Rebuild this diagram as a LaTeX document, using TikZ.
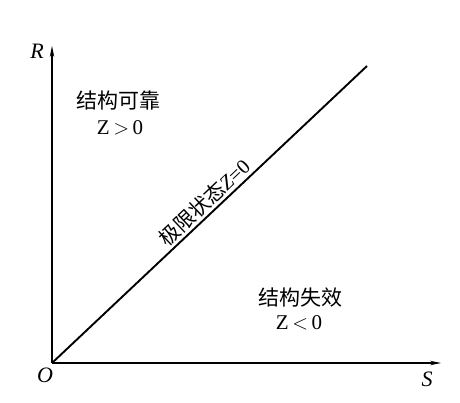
\documentclass[tikz,border=0pt]{standalone}
\usepackage{fontspec}
\setmainfont{Liberation Serif}
\newfontfamily\cjk{Noto Sans CJK SC}
\usetikzlibrary{arrows.meta}
\begin{document}
\begin{tikzpicture}[x=1pt,y=1pt,
  axis/.style={line width=1.2pt,-{Stealth[length=11pt,width=4.5pt]}},
  lbl/.style={font=\fontsize{22}{24}\selectfont\itshape,inner sep=0pt},
  region/.style={font=\fontsize{21}{23}\selectfont,inner sep=0pt,align=center}]
\useasboundingbox (0,0) rectangle (460,402);
\coordinate (O) at (52,39);
\coordinate (Rt) at (52,356);
\coordinate (St) at (441,39);
\coordinate (E) at (367,336);
\draw[axis] (O) -- (Rt);
\draw[axis] (O) -- (St);
\draw[line width=1.9pt] (O) -- (E)
  node[pos=0.51,sloped,above=2pt,font=\fontsize{20.5}{22}\selectfont,inner sep=0pt] {{\cjk 极限状态}\textit{Z}=0};
\node[lbl] (R) at (37,351) {R};
\node[lbl] (Olbl) at (45,27) {O};
\node[lbl] (S) at (427,23) {S};
\node[region] (safe) at (118,301) {\cjk 结构可靠};
\node[region] (safez) at (120,274) {Z\,$>$\,0};
\node[region] (fail) at (300,104) {\cjk 结构失效};
\node[region] (failz) at (299,79) {Z\,$<$\,0};
\end{tikzpicture}
\end{document}
